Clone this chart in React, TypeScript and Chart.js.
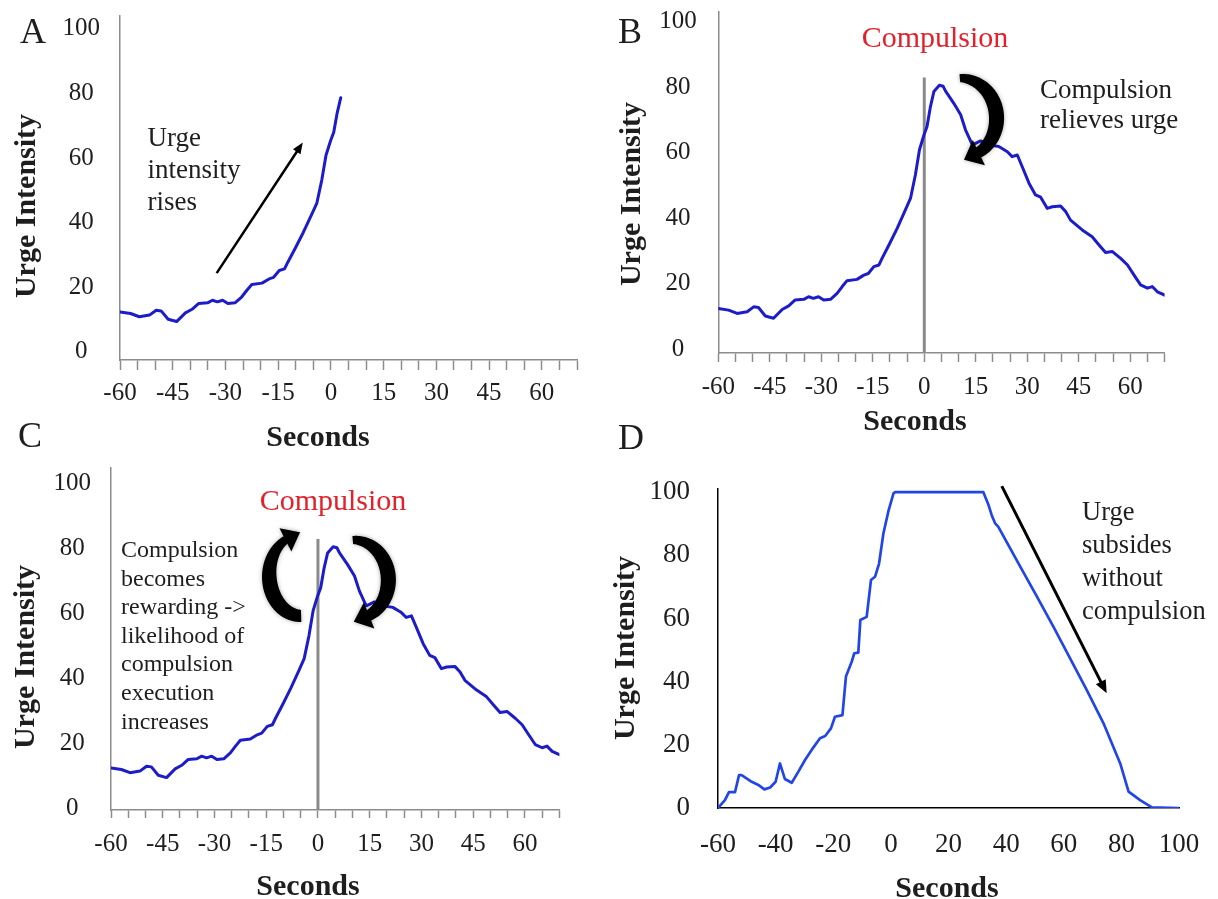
import React, { useEffect, useRef } from "react";
import { Chart, registerables } from "chart.js";

Chart.register(...registerables);

// ---------- Data ----------
// Panels A, B and C show the same averaged urge trace (A stops just after 0 s)
const abcSeconds = [
  -60, -57, -54.5, -51.6, -49.7, -48.3, -46.3, -43.9, -41.4, -39.5, -37.6, -35.1,
  -33.7, -32.3, -30.8, -29.3, -27.3, -25.4, -23.9, -22.5, -19.6, -17.6, -16.3, -14.7,
  -13.2, -12.3, -10.3, -7.9, -5.5, -4.0, -2.6, -1.4, -0.1, 0.8, 1.8, 2.8, 4.4, 5.5,
  6.2, 8.6, 10.6, 12.0, 14.0, 16.4, 18.8, 21.7, 24.2, 25.6, 27.1, 28.5, 30.5, 32.4,
  33.9, 35.8, 37.3, 39.7, 41.2, 42.6, 46.0, 48.9, 50.9, 52.8, 54.8, 57.2, 59.2, 61.1,
  63.0, 65.0, 66.4, 67.9, 70.0,
];
const abcUrge = [
  12.4, 11.9, 10.9, 11.4, 12.9, 12.7, 10.1, 9.4, 12.1, 13.2, 15.0, 15.2,
  16.0, 15.5, 16.0, 15.0, 15.2, 17.0, 19.1, 20.9, 21.3, 22.6, 23.1, 25.2,
  25.7, 27.7, 31.8, 36.9, 42.5, 46.1, 53.2, 60.9, 65.4, 68.0, 74.1, 78.7, 80.6, 80.3,
  78.8, 75.1, 71.6, 67.0, 62.4, 63.6, 62.4, 61.9, 60.3, 58.8, 59.3, 55.8, 50.7, 47.1,
  46.4, 43.0, 43.5, 43.7, 42.0, 39.4, 36.4, 34.3, 31.8, 29.5, 29.8, 27.7, 25.7, 22.6,
  19.6, 18.6, 19.1, 17.5, 16.5,
];
const aLastSecond = 3;

// Panel D: urge without compulsion
const dSeconds = [
  -60, -57.6, -56.2, -54.1, -52.7, -51.8, -48.3, -46.0, -43.9, -41.9, -40.0, -38.5,
  -36.8, -34.4, -32.1, -29.8, -27.5, -24.6, -22.8, -20.8, -19.4, -16.8, -15.6, -13.6,
  -12.7, -11.3, -10.6, -8.4, -6.9, -5.5, -4.1, -2.6, -0.9, 0.9, 1.5, 32.1, 33.9, 35.0,
  36.2, 37.3, 44.9, 50.7, 56.4, 62.2, 68.0, 73.8, 79.6, 82.5, 86.5, 90.6, 100,
];
const dUrge = [
  0, 2.5, 5.0, 5.0, 10.4, 10.4, 8.3, 7.3, 5.9, 6.5, 8.3, 14.1,
  9.2, 8.0, 11.5, 15.2, 18.4, 22.1, 22.8, 25.2, 28.9, 29.4, 41.6, 46.3,
  49.0, 49.2, 59.5, 60.5, 72.2, 73.2, 77.4, 86.9, 93.8, 99.6, 100, 100, 95.9, 92.7,
  90.1, 89.0, 76.4, 66.9, 57.4, 47.4, 37.3, 26.8, 14.1, 5.2, 2.5, 0.2, 0,
];

// Ticks
const yTickValues = [0, 20, 40, 60, 80, 100];
const abcTickMarks = [
  -60, -55, -50, -45, -40, -35, -30, -25, -20, -15, -10, -5, 0, 5, 10, 15, 20, 25,
  30, 35, 40, 45, 50, 55, 60, 65, 70,
];
const abcTickLabels = [-60, -45, -30, -15, 0, 15, 30, 45, 60];
const dTickLabels = [-60, -40, -20, 0, 20, 40, 60, 80, 100];

// Texts
const panelLetters = ["A", "B", "C", "D"];
const yTitle = "Urge Intensity";
const xTitle = "Seconds";
const compulsionLabel = "Compulsion";
const noteA = ["Urge", "intensity", "rises"];
const noteB = ["Compulsion", "relieves urge"];
const noteC = ["Compulsion", "becomes", "rewarding ->", "likelihood of", "compulsion", "execution", "increases"];
const noteD = ["Urge", "subsides", "without", "compulsion"];

// ---------- Drawing helpers ----------
const SERIF = '"Liberation Serif", "Times New Roman", Times, serif';
const INK = "#1e1e1e";
const RED = "#e2222b";

type Ctx = CanvasRenderingContext2D;

function dataPx(chart: any, t: number, v: number) {
  return { x: chart.scales.x.getPixelForValue(t), y: chart.scales.y.getPixelForValue(v) };
}

function drawText(ctx: Ctx, s: string, x: number, y: number, font: string, color = INK, align: CanvasTextAlign = "left") {
  ctx.save();
  ctx.font = font;
  ctx.fillStyle = color;
  ctx.textAlign = align;
  ctx.textBaseline = "alphabetic";
  ctx.fillText(s, x, y);
  ctx.restore();
}

function drawLines(ctx: Ctx, lines: string[], x: number, y0: number, step: number, font: string) {
  lines.forEach((l, i) => drawText(ctx, l, x, y0 + i * step, font));
}

function drawYTitle(ctx: Ctx, x: number, y: number) {
  ctx.save();
  ctx.translate(x, y);
  ctx.rotate(-Math.PI / 2);
  ctx.font = `bold 30px ${SERIF}`;
  ctx.fillStyle = INK;
  ctx.textAlign = "center";
  ctx.textBaseline = "middle";
  ctx.fillText(yTitle, 0, 0);
  ctx.restore();
}

function straightArrow(ctx: Ctx, x0: number, y0: number, x1: number, y1: number, w: number, headLen: number, headHalf: number) {
  const dx = x1 - x0, dy = y1 - y0;
  const len = Math.hypot(dx, dy);
  const ux = dx / len, uy = dy / len;
  const bx = x1 - ux * headLen, by = y1 - uy * headLen;
  ctx.save();
  ctx.strokeStyle = "#000";
  ctx.fillStyle = "#000";
  ctx.lineWidth = w;
  ctx.lineCap = "butt";
  ctx.beginPath();
  ctx.moveTo(x0, y0);
  ctx.lineTo(bx + ux * 1, by + uy * 1);
  ctx.stroke();
  ctx.beginPath();
  ctx.moveTo(x1, y1);
  ctx.lineTo(bx - uy * headHalf, by + ux * headHalf);
  ctx.lineTo(bx + uy * headHalf, by - ux * headHalf);
  ctx.closePath();
  ctx.fill();
  ctx.restore();
}

function curvedArrow(
  ctx: Ctx, cx: number, cy: number, rx: number, ry: number,
  a0: number, a1: number, w0: number, wm: number, w1: number,
  headLen: number, headHalf: number
) {
  const N = 80;
  const outer: [number, number][] = [];
  const inner: [number, number][] = [];
  for (let i = 0; i <= N; i++) {
    const s = i / N;
    const a = ((a0 + (a1 - a0) * s) * Math.PI) / 180;
    const lin = w0 + (w1 - w0) * s;
    const w = lin + (wm - (w0 + w1) / 2) * Math.sin(Math.PI * s);
    outer.push([cx + rx * Math.cos(a), cy + ry * Math.sin(a)]);
    inner.push([cx + (rx - w) * Math.cos(a), cy + (ry - w) * Math.sin(a)]);
  }
  ctx.save();
  ctx.fillStyle = "#000";
  ctx.shadowColor = "rgba(0,0,0,0.35)";
  ctx.shadowBlur = 4;
  ctx.beginPath();
  outer.forEach((p, i) => (i ? ctx.lineTo(p[0], p[1]) : ctx.moveTo(p[0], p[1])));
  for (let i = inner.length - 1; i >= 0; i--) ctx.lineTo(inner[i][0], inner[i][1]);
  ctx.closePath();
  ctx.fill();
  // head
  const a = (a1 * Math.PI) / 180;
  const rmx = rx - w1 / 2, rmy = ry - w1 / 2;
  const bx = cx + rmx * Math.cos(a), by = cy + rmy * Math.sin(a);
  const dir = Math.sign(a1 - a0);
  let tx = -rmx * Math.sin(a) * dir, ty = rmy * Math.cos(a) * dir;
  const tl = Math.hypot(tx, ty);
  tx /= tl; ty /= tl;
  const px = -ty, py = tx;
  const sx = bx - tx * 1.5, sy = by - ty * 1.5;
  ctx.beginPath();
  ctx.moveTo(sx + px * headHalf, sy + py * headHalf);
  ctx.lineTo(bx + tx * headLen, by + ty * headLen);
  ctx.lineTo(sx - px * headHalf, sy - py * headHalf);
  ctx.closePath();
  ctx.fill();
  ctx.restore();
}

function compulsionLine(chart: any, top: number) {
  const ctx: Ctx = chart.ctx;
  const x = chart.scales.x.getPixelForValue(0);
  const y0 = chart.chartArea.bottom;
  const y1 = chart.scales.y.getPixelForValue(top);
  ctx.save();
  ctx.strokeStyle = "#8a8a8a";
  ctx.lineWidth = 3;
  ctx.beginPath();
  ctx.moveTo(x, y0);
  ctx.lineTo(x, y1);
  ctx.stroke();
  ctx.restore();
}

// ---------- Panel specs ----------
interface PanelSpec {
  key: string;
  left: number; top: number; width: number; height: number;
  plotLeft: number; plotRight: number; plotTop: number; plotBottom: number;
  xMin: number; xMax: number; yMin: number; yMax: number;
  seconds: number[]; urge: number[];
  lineColor: string; lineWidth: number; axisColor: string;
  xTicks: number[]; xLabels: number[]; tickMarkLen: number;
  xLabelPad: number; yLabelPad: number; yCrossAlign: "center" | "near";
  tickFont: number;
  before?: (chart: any) => void;
  draw: (chart: any) => void;
}

const aSeconds = abcSeconds.filter((t) => t <= aLastSecond);
const aUrge = abcUrge.slice(0, aSeconds.length);

const panels: PanelSpec[] = [
  {
    key: "A", left: 0, top: 0, width: 609, height: 449,
    plotLeft: 120, plotRight: 577, plotTop: 16, plotBottom: 360,
    xMin: -60, xMax: 70, yMin: -2.5, yMax: 104,
    seconds: aSeconds, urge: aUrge,
    lineColor: "#1c1cc8", lineWidth: 3, axisColor: "#8c8c8c",
    xTicks: abcTickMarks, xLabels: abcTickLabels, tickMarkLen: 10,
    xLabelPad: 8, yLabelPad: 20, yCrossAlign: "center", tickFont: 25,
    draw: (chart) => {
      const ctx: Ctx = chart.ctx;
      drawText(ctx, panelLetters[0], 20, 43, `36px ${SERIF}`);
      drawYTitle(ctx, 27, 206);
      drawText(ctx, xTitle, 318, 446, `bold 30px ${SERIF}`, INK, "center");
      drawLines(ctx, noteA, 147.5, 146, 32, `27px ${SERIF}`);
      const p0 = dataPx(chart, -32.5, 24.4);
      const p1 = dataPx(chart, -8.0, 64.8);
      straightArrow(ctx, p0.x, p0.y, p1.x, p1.y, 2.5, 11, 4.5);
    },
  },
  {
    key: "B", left: 609, top: 0, width: 609, height: 449,
    plotLeft: 109.3, plotRight: 555.6, plotTop: 12, plotBottom: 353,
    xMin: -60, xMax: 70, yMin: -1.2, yMax: 103,
    seconds: abcSeconds, urge: abcUrge,
    lineColor: "#1c1cc8", lineWidth: 3, axisColor: "#8c8c8c",
    xTicks: abcTickMarks, xLabels: abcTickLabels, tickMarkLen: 9,
    xLabelPad: 10, yLabelPad: 21.5, yCrossAlign: "center", tickFont: 25,
    before: (chart) => compulsionLine(chart, 83),
    draw: (chart) => {
      const ctx: Ctx = chart.ctx;
      drawText(ctx, panelLetters[1], 9, 43, `36px ${SERIF}`);
      drawYTitle(ctx, 23, 194);
      drawText(ctx, xTitle, 306, 430, `bold 30px ${SERIF}`, INK, "center");
      drawText(ctx, compulsionLabel, 326, 47, `30px ${SERIF}`, RED, "center");
      drawLines(ctx, noteB, 431, 98, 30, `27px ${SERIF}`);
      const c = dataPx(chart, 11.3, 70.6);
      curvedArrow(ctx, c.x, c.y, 41, 44, -95, 66, 8, 15, 11, 15, 14);
    },
  },
  {
    key: "C", left: 0, top: 400, width: 609, height: 499,
    plotLeft: 111, plotRight: 559.4, plotTop: 68, plotBottom: 410,
    xMin: -60, xMax: 70, yMin: -0.6, yMax: 104.9,
    seconds: abcSeconds, urge: abcUrge,
    lineColor: "#1c1cc8", lineWidth: 3, axisColor: "#8c8c8c",
    xTicks: abcTickMarks, xLabels: abcTickLabels, tickMarkLen: 8,
    xLabelPad: 11, yLabelPad: 20, yCrossAlign: "center", tickFont: 25,
    before: (chart) => compulsionLine(chart, 83),
    draw: (chart) => {
      const ctx: Ctx = chart.ctx;
      drawText(ctx, panelLetters[2], 18, 47, `36px ${SERIF}`);
      drawYTitle(ctx, 26, 257);
      drawText(ctx, xTitle, 308, 495, `bold 30px ${SERIF}`, INK, "center");
      drawText(ctx, compulsionLabel, 333, 110, `30px ${SERIF}`, RED, "center");
      drawLines(ctx, noteC, 121, 157, 28.6, `24px ${SERIF}`);
      const cl = dataPx(chart, -5.2, 71.3);
      curvedArrow(ctx, cl.x, cl.y, 38, 45, 88, 247, 12, 15, 8, 15, 13);
      const cr = dataPx(chart, 11.0, 70.4);
      curvedArrow(ctx, cr.x, cr.y, 40, 44, -95, 70, 8, 15, 11, 15, 14);
    },
  },
  {
    key: "D", left: 609, top: 400, width: 609, height: 499,
    plotLeft: 109, plotRight: 570, plotTop: 89, plotBottom: 408,
    xMin: -60, xMax: 100, yMin: 0, yMax: 101,
    seconds: dSeconds, urge: dUrge,
    lineColor: "#2246e6", lineWidth: 2.7, axisColor: "#000000",
    xTicks: dTickLabels, xLabels: dTickLabels, tickMarkLen: 0,
    xLabelPad: 21, yLabelPad: 28, yCrossAlign: "near", tickFont: 27,
    draw: (chart) => {
      const ctx: Ctx = chart.ctx;
      drawText(ctx, panelLetters[3], 9, 49, `36px ${SERIF}`);
      drawYTitle(ctx, 17, 248);
      drawText(ctx, xTitle, 338, 497, `bold 30px ${SERIF}`, INK, "center");
      drawLines(ctx, noteD, 473, 120, 33, `26.5px ${SERIF}`);
      const p0 = dataPx(chart, 38.5, 101.9);
      const p1 = dataPx(chart, 74.9, 36.3);
      straightArrow(ctx, p0.x, p0.y, p1.x, p1.y, 3, 13, 5.5);
    },
  },
];

// ---------- Components ----------
function PanelChart({ spec }: { spec: PanelSpec }) {
  const ref = useRef<HTMLCanvasElement | null>(null);

  useEffect(() => {
    const canvas = ref.current;
    if (!canvas) return;
    const hasMarks = spec.tickMarkLen > 0;
    const chart = new Chart(canvas, {
      type: "line",
      data: {
        datasets: [
          {
            data: spec.seconds.map((t, i) => ({ x: t, y: spec.urge[i] })),
            borderColor: spec.lineColor,
            borderWidth: spec.lineWidth,
            pointRadius: 0,
            tension: 0,
            fill: false,
            borderJoinStyle: "round",
            borderCapStyle: "round",
          },
        ],
      },
      options: {
        responsive: false,
        animation: false,
        devicePixelRatio: 1,
        events: [],
        layout: {
          padding: { left: 0, top: spec.plotTop, right: spec.width - spec.plotRight, bottom: 0 },
        },
        plugins: {
          legend: { display: false },
          tooltip: { enabled: false },
          title: { display: false },
        },
        scales: {
          x: {
            type: "linear",
            min: spec.xMin,
            max: spec.xMax,
            afterBuildTicks: (s: any) => {
              s.ticks = spec.xTicks.map((v) => ({ value: v }));
            },
            afterFit: (s: any) => {
              s.height = spec.height - spec.plotBottom;
              s.paddingLeft = 0;
              s.paddingRight = 0;
              s.paddingTop = 0;
              s.paddingBottom = 0;
            },
            grid: {
              display: hasMarks,
              drawOnChartArea: false,
              drawTicks: hasMarks,
              tickLength: spec.tickMarkLen,
              tickColor: spec.axisColor,
              tickWidth: 1.5,
            },
            border: { display: true, color: spec.axisColor, width: 1.5 },
            ticks: {
              autoSkip: false,
              maxRotation: 0,
              minRotation: 0,
              padding: spec.xLabelPad,
              color: INK,
              font: { family: SERIF, size: spec.tickFont },
              callback: (v: any) => (spec.xLabels.includes(Number(v)) ? String(v) : ""),
            },
          },
          y: {
            type: "linear",
            min: spec.yMin,
            max: spec.yMax,
            afterBuildTicks: (s: any) => {
              s.ticks = yTickValues.map((v) => ({ value: v }));
            },
            afterFit: (s: any) => {
              s.width = spec.plotLeft;
              s.paddingLeft = 0;
              s.paddingRight = 0;
              s.paddingTop = 0;
              s.paddingBottom = 0;
            },
            grid: { display: false, drawTicks: false, tickLength: 0 },
            border: { display: true, color: spec.axisColor, width: 1.5 },
            ticks: {
              padding: spec.yLabelPad,
              crossAlign: spec.yCrossAlign,
              color: INK,
              font: { family: SERIF, size: spec.tickFont },
              callback: (v: any) => String(v),
            },
          },
        },
      } as any,
      plugins: [
        {
          id: "annotations" + spec.key,
          beforeDatasetsDraw: (chart: any) => {
            if (spec.before) spec.before(chart);
          },
          afterDraw: (chart: any) => {
            spec.draw(chart);
          },
        },
      ],
    });
    return () => chart.destroy();
  }, [spec]);

  return (
    <canvas
      ref={ref}
      width={spec.width}
      height={spec.height}
      style={{
        position: "absolute",
        left: spec.left,
        top: spec.top,
        width: spec.width,
        height: spec.height,
      }}
    />
  );
}

export default function App() {
  return (
    <div
      style={{
        position: "absolute",
        left: 0,
        top: 0,
        width: 1218,
        height: 899,
        background: "#ffffff",
        overflow: "hidden",
      }}
    >
      {panels.map((p) => (
        <PanelChart key={p.key} spec={p} />
      ))}
    </div>
  );
}
